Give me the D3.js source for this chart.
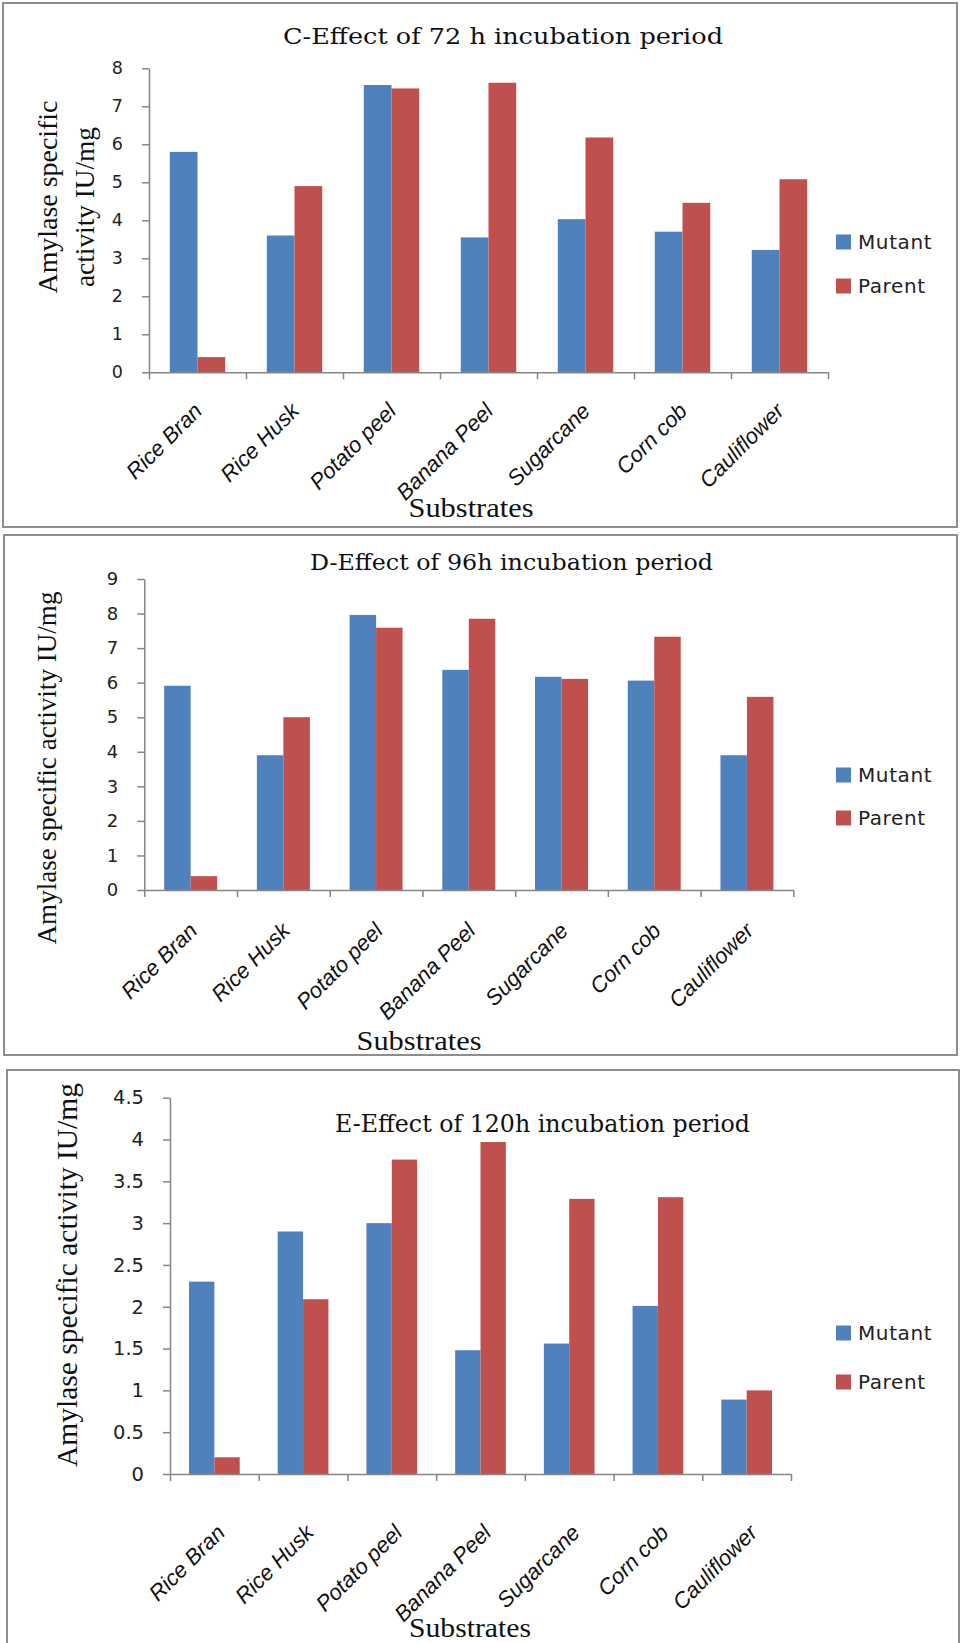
<!DOCTYPE html>
<html><head><meta charset="utf-8">
<script src="https://cdn.jsdelivr.net/npm/d3@7"></script>
<style>body{margin:0;background:#fff}svg{display:block}</style>
</head><body><svg id="chart" width="960" height="1643"></svg>
<script>
// ---- data ----
const categories = ["Rice Bran","Rice Husk","Potato peel","Banana Peel","Sugarcane","Corn cob","Cauliflower"];
const seriesNames = ["Mutant","Parent"];
const mutant72 = [5.8, 3.6, 7.56, 3.55, 4.03, 3.7, 3.22];
const parent72 = [0.4, 4.9, 7.47, 7.62, 6.18, 4.46, 5.08];
const mutant96 = [5.91, 3.9, 7.96, 6.37, 6.17, 6.06, 3.9];
const parent96 = [0.4, 5.0, 7.59, 7.85, 6.11, 7.33, 5.59];
const mutant120 = [2.3, 2.9, 3.0, 1.48, 1.56, 2.01, 0.89];
const parent120 = [0.2, 2.09, 3.76, 3.97, 3.29, 3.31, 1.0];
const ticks72 = [0,1,2,3,4,5,6,7,8];
const ticks96 = [0,1,2,3,4,5,6,7,8,9];
const ticks120 = [0,0.5,1,1.5,2,2.5,3,3.5,4,4.5];
const titles = ["C-Effect of 72 h incubation period","D-Effect of 96h incubation period","E-Effect of 120h incubation period"];
const yTitleTwoLines = ["Amylase specific","activity IU/mg"];
const yTitleOneLine = ["Amylase specific activity IU/mg"];
const xTitle = "Substrates";

// ---- styles / layout ----
const colors = ["#4F81BD","#C0504D"];
const axisGray = "#868686";
const frameGray = "#8e8e8e";

const panels = [
  {m: mutant72, p: parent72, ticks: ticks72, title: titles[0], ylab: yTitleTwoLines,
   frame: [3,3,957,527], xr: [149,828], yr: [372.3,68.3],
   titleX: 283, titleY: 44, titleLen: 440, titleSize: 22,
   ylabX: [57,94], ylabCy: [197,207], ylabLen: [193,160], ylabSize: 27,
   tickSize: 17.5, xlabSize: 22, xlabDx: 6, xlabDy: 40,
   subX: 471, subY: 517, subLen: 125, legX: 836, legY: [242,286]},
  {m: mutant96, p: parent96, ticks: ticks96, title: titles[1], ylab: yTitleOneLine,
   frame: [4,535,957,1055], xr: [144.3,793.3], yr: [890,579],
   titleX: 310, titleY: 570, titleLen: 403, titleSize: 23,
   ylabX: [56], ylabCy: [768], ylabLen: [353], ylabSize: 27,
   tickSize: 18, xlabSize: 22, xlabDx: 8, xlabDy: 42,
   subX: 419, subY: 1050, subLen: 125, legX: 836, legY: [775,818]},
  {m: mutant120, p: parent120, ticks: ticks120, title: titles[2], ylab: yTitleOneLine,
   frame: [7,1070,959,1650], xr: [170,791], yr: [1474,1097.7],
   titleX: 335, titleY: 1132, titleLen: 415, titleSize: 25,
   ylabX: [77], ylabCy: [1275], ylabLen: [384], ylabSize: 29.5,
   tickSize: 19.5, xlabSize: 22, xlabDx: 12, xlabDy: 60,
   subX: 470, subY: 1637, subLen: 122, legX: 836, legY: [1333,1382]}
];

const svg = d3.select("#chart");

panels.forEach(P => {
  const g = svg.append("g");
  // frame
  g.append("rect")
    .attr("x", P.frame[0]).attr("y", P.frame[1])
    .attr("width", P.frame[2]-P.frame[0]).attr("height", P.frame[3]-P.frame[1])
    .attr("fill", "#fff").attr("stroke", frameGray).attr("stroke-width", 2);

  const x = d3.scaleBand().domain(categories).range(P.xr).padding(0);
  const xs = d3.scaleBand().domain(seriesNames).range([0, x.bandwidth()]).paddingInner(0).paddingOuter(0.75);
  const ymax = d3.max(P.ticks);
  const y = d3.scaleLinear().domain([0, ymax]).range(P.yr);

  // bars
  const rows = categories.map((c,i) => ({c, vals: [P.m[i], P.p[i]]}));
  const grp = g.append("g").selectAll("g").data(rows).join("g")
    .attr("transform", d => `translate(${x(d.c)},0)`);
  grp.selectAll("rect").data(d => d.vals.map((v,k) => ({k, v})))
    .join("rect")
    .attr("x", d => xs(seriesNames[d.k]))
    .attr("width", xs.bandwidth())
    .attr("y", d => y(d.v))
    .attr("height", d => y(0) - y(d.v))
    .attr("fill", d => colors[d.k]);

  // y axis
  const ya = g.append("g").attr("transform", `translate(${P.xr[0]},0)`)
    .call(d3.axisLeft(y).tickValues(P.ticks).tickSize(7).tickSizeOuter(0).tickPadding(19)
      .tickFormat(d => String(d)));
  ya.attr("font-family", null).attr("font-size", null);
  ya.select(".domain").attr("stroke", axisGray).attr("stroke-width", 1.5);
  ya.selectAll(".tick line").attr("stroke", axisGray).attr("stroke-width", 1.5);
  ya.selectAll(".tick text").attr("fill", "#222")
    .style("font-family", "'DejaVu Sans', sans-serif").style("font-size", P.tickSize + "px");

  // x axis (ticks at category boundaries)
  const xi = d3.scaleLinear().domain([0, categories.length]).range(P.xr);
  const xa = g.append("g").attr("transform", `translate(0,${y(0)})`)
    .call(d3.axisBottom(xi).tickValues(d3.range(categories.length + 1)).tickSize(7).tickSizeOuter(0).tickFormat(""));
  xa.select(".domain").attr("stroke", axisGray).attr("stroke-width", 1.5);
  xa.selectAll(".tick line").attr("stroke", axisGray).attr("stroke-width", 1.5);

  // x category labels
  g.append("g").selectAll("text").data(categories).join("text")
    .attr("transform", d => `translate(${x(d) + x.bandwidth()/2 + P.xlabDx},${y(0) + P.xlabDy}) rotate(-45)`)
    .attr("text-anchor", "end")
    .style("font-family", "'Liberation Sans', Arial, sans-serif")
    .style("font-style", "italic")
    .style("font-size", P.xlabSize + "px")
    .attr("fill", "#111")
    .text(d => d);

  // title
  g.append("text")
    .attr("x", P.titleX).attr("y", P.titleY)
    .attr("textLength", P.titleLen).attr("lengthAdjust", "spacingAndGlyphs")
    .style("font-family", "'DejaVu Serif', serif").style("font-size", P.titleSize + "px")
    .attr("fill", "#111")
    .text(P.title);

  // y title
  P.ylab.forEach((t, i) => {
    g.append("text")
      .attr("transform", `translate(${P.ylabX[i]},${P.ylabCy[i]}) rotate(-90)`)
      .attr("text-anchor", "middle")
      .attr("textLength", P.ylabLen[i]).attr("lengthAdjust", "spacingAndGlyphs")
      .style("font-family", "'Liberation Serif', 'Times New Roman', serif")
      .style("font-size", P.ylabSize + "px")
      .attr("fill", "#111")
      .text(t);
  });

  // x title
  g.append("text")
    .attr("x", P.subX - P.subLen/2).attr("y", P.subY)
    .attr("textLength", P.subLen).attr("lengthAdjust", "spacingAndGlyphs")
    .style("font-family", "'Liberation Serif', 'Times New Roman', serif")
    .style("font-size", "27px")
    .attr("fill", "#111")
    .text(xTitle);

  // legend
  const lg = g.append("g").selectAll("g").data(seriesNames).join("g")
    .attr("transform", (d,i) => `translate(${P.legX},${P.legY[i]})`);
  lg.append("rect").attr("x", 0).attr("y", -7.5).attr("width", 15).attr("height", 15)
    .attr("fill", (d,i) => colors[i]);
  lg.append("text").attr("x", 22).attr("dy", "0.36em")
    .style("font-family", "'DejaVu Sans', sans-serif").style("font-size", "20px")
    .style("letter-spacing", "0.6px")
    .attr("fill", "#222")
    .text(d => d);
});
</script>
</body></html>
